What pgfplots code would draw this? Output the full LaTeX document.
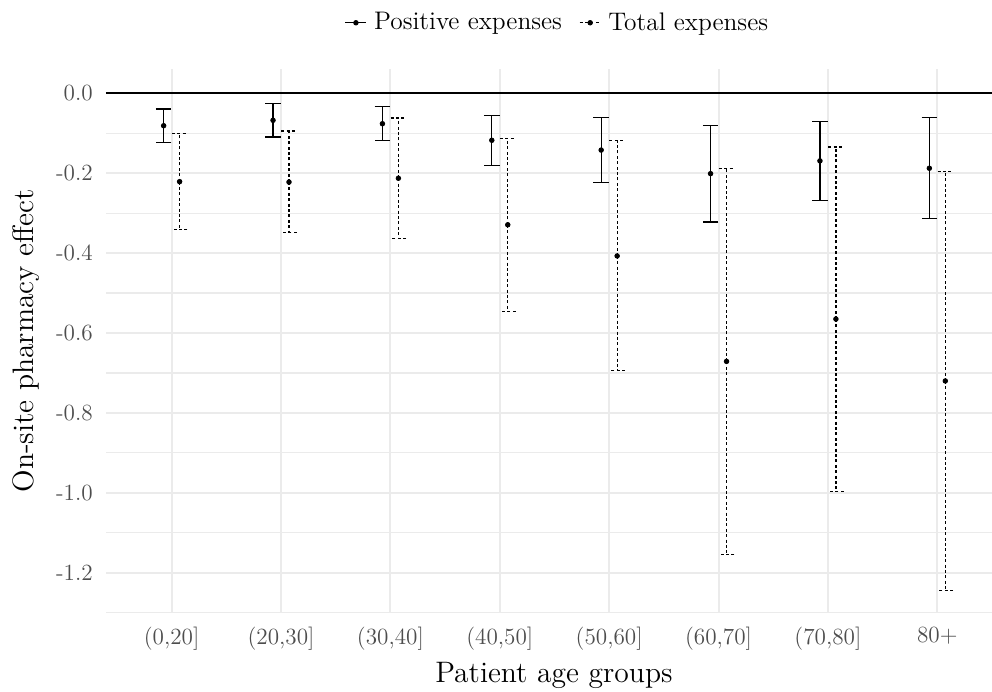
\documentclass[border=0pt]{standalone}
\usepackage{fontspec}
\usepackage{pgfplots}
\usepackage{pgfplotstable}
\pgfplotsset{compat=1.18}

\definecolor{gridgray}{HTML}{EBEBEB}
\definecolor{tickgray}{HTML}{4D4D4D}

% x, point estimate, lower and upper end of the interval
\pgfplotstableread{
x y lo hi
1 -0.081 -0.1235 -0.039
2 -0.0675 -0.109 -0.026
3 -0.076 -0.1175 -0.033
4 -0.1175 -0.181 -0.056
5 -0.142 -0.2235 -0.061
6 -0.201 -0.322 -0.081
7 -0.169 -0.2685 -0.070
8 -0.1875 -0.3135 -0.061
}\postab

\pgfplotstableread{
x y lo hi
1 -0.221 -0.341 -0.101
2 -0.222 -0.349 -0.094
3 -0.2125 -0.3625 -0.062
4 -0.329 -0.546 -0.1135
5 -0.407 -0.694 -0.1185
6 -0.671 -1.154 -0.1885
7 -0.565 -0.997 -0.134
8 -0.720 -1.245 -0.196
}\totab

\begin{document}
\begin{tikzpicture}
\begin{axis}[
  scale only axis, width=443pt, height=272pt,
  xmin=0.4, xmax=8.5, ymin=-1.301, ymax=0.061,
  axis line style={draw=none}, tick style={draw=none},
  xtick={1,2,3,4,5,6,7,8},
  xticklabels={{(0,20]},{(20,30]},{(30,40]},{(40,50]},{(50,60]},{(60,70]},{(70,80]},{80+}},
  ytick={-1.2,-1.0,-0.8,-0.6,-0.4,-0.2,0},
  yticklabels={{-1.2},{-1.0},{-0.8},{-0.6},{-0.4},{-0.2},{0.0}},
  minor ytick={-1.3,-1.1,-0.9,-0.7,-0.5,-0.3,-0.1},
  xmajorgrids, ymajorgrids, yminorgrids,
  major grid style={gridgray, line width=1pt},
  minor grid style={gridgray, line width=0.6pt},
  ticklabel style={font=\fontsize{11.6}{13.9}\selectfont, text=tickgray},
  xticklabel style={yshift=-3.5pt},
  yticklabel style={xshift=-3.1pt},
  xlabel={Patient age groups},
  ylabel={On-site pharmacy effect},
  label style={font=\fontsize{14.8}{17}\selectfont},
  xlabel style={at={(axis description cs:0.5056,-0.1283)}, anchor=base},
  ylabel style={at={(axis description cs:-0.0820,0.5)}, anchor=base},
  legend columns=-1,
  legend style={at={(axis description cs:0.5107,1.085)}, anchor=center, draw=none,
    fill=none, font=\fontsize{12.7}{15}\selectfont,
    /tikz/every odd column/.append style={column sep=1.5pt},
    /tikz/every even column/.append style={column sep=6.5pt}},
]
\addplot[black, line width=1.1pt, forget plot] coordinates {(0.4,0) (8.5,0)};

\addplot[only marks, mark=*, mark size=1.15pt, black, mark options={solid},
  legend image code/.code={
    \draw[black, line width=0.65pt] (0pt,0pt) -- (10.5pt,0pt);
    \fill[black] (5.25pt,0pt) circle[radius=1.15pt];},
  error bars/.cd, y dir=both, y explicit,
  error bar style={line width=0.65pt, solid},
  error mark options={rotate=90, line width=0.65pt, mark size=3.9pt, solid}]
  table[x expr=\thisrow{x}-0.073, y=y,
        y error plus expr=\thisrow{hi}-\thisrow{y},
        y error minus expr=\thisrow{y}-\thisrow{lo}] {\postab};
\addlegendentry{Positive expenses}

\addplot[only marks, mark=*, mark size=1.15pt, black, mark options={solid},
  legend image code/.code={
    \draw[black, line width=0.65pt, dash pattern=on 1.5pt off 1.2pt] (0pt,0pt) -- (10.5pt,0pt);
    \fill[black] (5.25pt,0pt) circle[radius=1.15pt];},
  error bars/.cd, y dir=both, y explicit,
  error bar style={line width=0.65pt, dash pattern=on 1.5pt off 1.2pt},
  error mark options={rotate=90, line width=0.65pt, mark size=3.9pt, dash pattern=on 1.5pt off 1.2pt}]
  table[x expr=\thisrow{x}+0.073, y=y,
        y error plus expr=\thisrow{hi}-\thisrow{y},
        y error minus expr=\thisrow{y}-\thisrow{lo}] {\totab};
\addlegendentry{Total expenses}
\end{axis}
\pgfresetboundingbox
\path ([shift={(-53pt,-39pt)}]current axis.south west) rectangle ([shift={(0pt,34.5pt)}]current axis.north east);
\end{tikzpicture}
\end{document}
